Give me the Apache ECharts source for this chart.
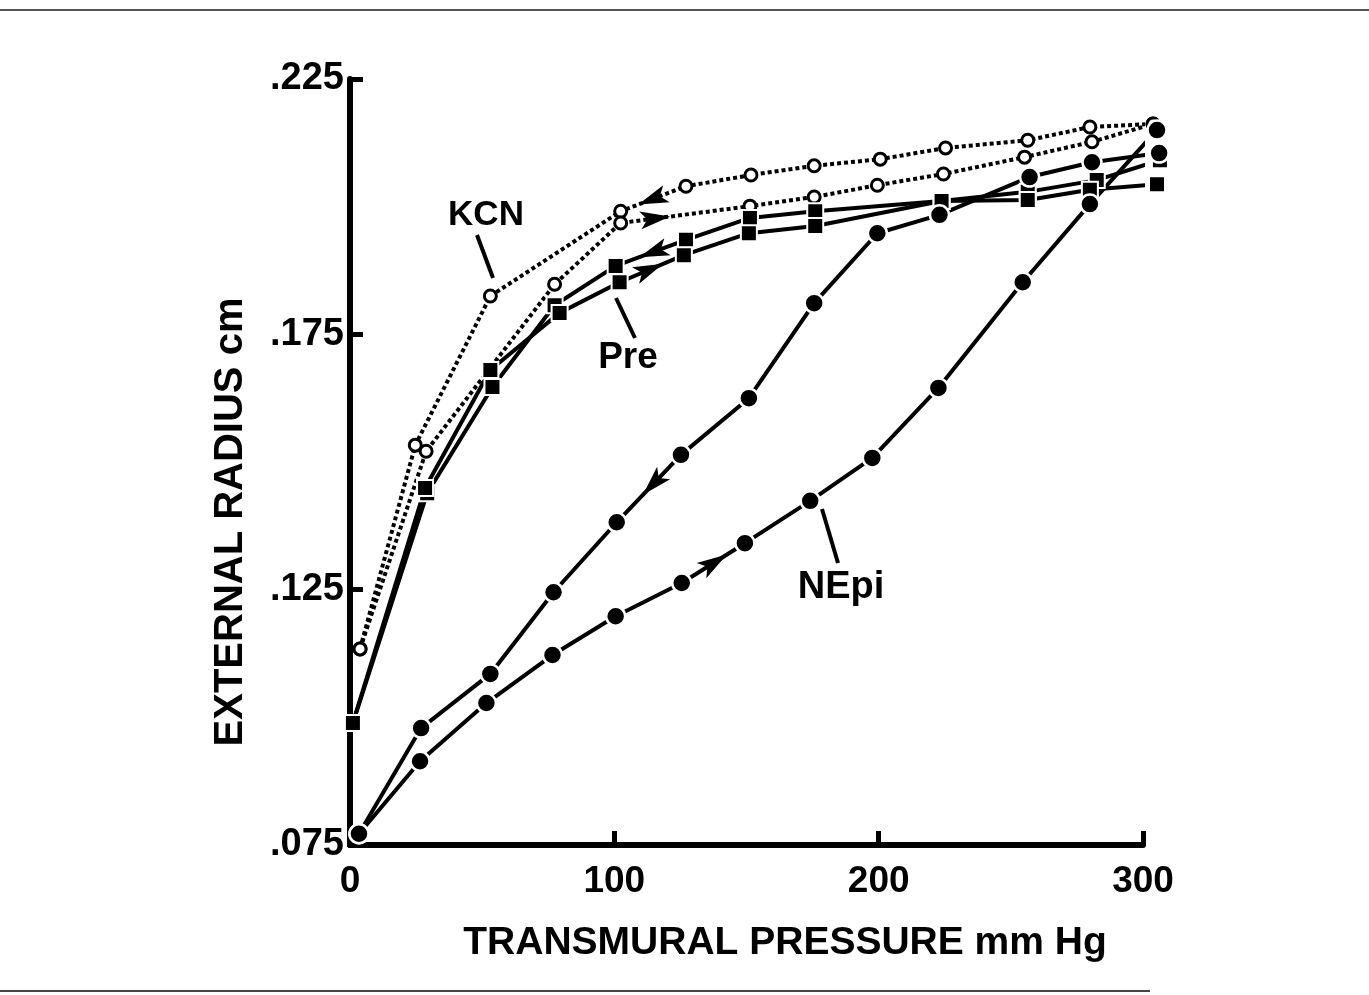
<!DOCTYPE html>
<html>
<head>
<meta charset="utf-8">
<script src="https://cdn.jsdelivr.net/npm/echarts@6/dist/echarts.min.js"></script>
<style>
html,body{margin:0;padding:0;background:#fff;}
#chart{width:1369px;height:995px;}
</style>
</head>
<body>
<div id="chart"></div>
<script>
// ---- data (transmural pressure mmHg, external radius cm) ----
var xTicks = [0, 100, 200, 300];
var yTicks = [0.075, 0.125, 0.175, 0.225];

var kcnDeflation = [
  [303.8, .2162], [279.9, .2156], [256.4, .2130], [225.3, .2115], [200.6, .2093],
  [175.6, .2080], [151.7, .2062], [127.1, .2040], [102.4, .1991], [53.1, .1825],
  [24.7, .1533], [3.8, .1134]
];
var kcnInflation = [
  [3.8, .1134], [28.8, .1521], [77.4, .1848], [102.4, .1968], [151.3, .2001],
  [175.6, .2019], [199.5, .2042], [224.5, .2064], [255.2, .2097], [280.7, .2127],
  [303.8, .2162]
];
var preDeflation = [
  [306.4, .2091], [282.5, .2052], [256.4, .2029], [223.8, .2011], [176.0, .1991],
  [151.3, .1978], [127.1, .1935], [100.5, .1884], [77.4, .1807], [53.9, .1647],
  [29.2, .1439], [1.1, .0989]
];
var preInflation = [
  [1.1, .0989], [28.4, .1449], [53.1, .1680], [79.3, .1792], [102.0, .1852],
  [126.3, .1905], [150.9, .1948], [176.0, .1962], [223.8, .2011], [256.4, .2013],
  [279.9, .2033], [305.3, .2044]
];
var nepiInflation = [
  [3.4, .0772], [26.5, .0914], [51.6, .1028], [76.6, .1122], [100.5, .1198],
  [125.5, .1263], [149.4, .1341], [174.1, .1424], [197.6, .1508], [222.6, .1645],
  [254.5, .1852], [279.9, .2005], [305.3, .2150]
];
var nepiDeflation = [
  [306.1, .2105], [280.7, .2087], [257.1, .2058], [223.0, .1984], [199.5, .1948],
  [175.6, .1811], [150.9, .1625], [125.2, .1514], [100.9, .1382], [77.0, .1245],
  [53.1, .1085], [26.9, .0979], [3.4, .0772]
];
// direction arrows: series, segment start index, fraction along segment
var arrowSpecs = [
  ['kcnDeflation', 7, 0.5], ['kcnInflation', 3, 0.26],
  ['preDeflation', 6, 0.45], ['preInflation', 4, 0.45],
  ['nepiDeflation', 7, 0.42], ['nepiInflation', 5, 0.5]
];
var seriesData = {
  kcnDeflation: kcnDeflation, kcnInflation: kcnInflation,
  preDeflation: preDeflation, preInflation: preInflation,
  nepiDeflation: nepiDeflation, nepiInflation: nepiInflation
};

var FONT = '"Liberation Sans", Arial, sans-serif';
var chart = echarts.init(document.getElementById('chart'), null, {renderer: 'canvas'});

function lineSeries(name, data, kind) {
  var s = {
    name: name, type: 'line', data: data, clip: false, z: 3,
    lineStyle: {color: '#000', width: 4},
    symbolKeepAspect: true
  };
  if (kind === 'open') {
    s.symbol = 'circle'; s.symbolSize = 12;
    s.itemStyle = {color: '#fff', borderColor: '#000', borderWidth: 3};
    s.lineStyle = {color: '#000', width: 4, type: [4, 3], cap: 'butt'};
  } else if (kind === 'square') {
    s.symbol = 'rect'; s.symbolSize = 16;
    s.itemStyle = {color: '#000', borderColor: '#fff', borderWidth: 2};
  } else {
    s.symbol = 'circle'; s.symbolSize = 19;
    s.itemStyle = {color: '#000', borderColor: '#fff', borderWidth: 2.5};
  }
  return s;
}

var arrowData = arrowSpecs.map(function (a) {
  var d = seriesData[a[0]];
  var p = d[a[1]], q = d[a[1] + 1];
  return [p[0], p[1], q[0], q[1], a[2]];
});

var option = {
  animation: false,
  backgroundColor: '#fff',
  grid: {left: 350, right: 226, top: 79, bottom: 150, containLabel: false},
  xAxis: {
    type: 'value', min: 0, max: 300, interval: 100,
    axisLine: {show: true, onZero: false, lineStyle: {color: '#000', width: 6}},
    axisTick: {show: true, inside: true, length: 14, lineStyle: {color: '#000', width: 5}},
    splitLine: {show: false},
    axisLabel: {color: '#000', fontFamily: FONT, fontWeight: 'bold', fontSize: 37, margin: 18,
      formatter: function (v) { return xTicks.indexOf(v) >= 0 ? String(v) : ''; }}
  },
  yAxis: {
    type: 'value', min: 0.075, max: 0.225, interval: 0.05,
    axisLine: {show: true, onZero: false, lineStyle: {color: '#000', width: 6}},
    axisTick: {show: true, inside: true, length: 13, lineStyle: {color: '#000', width: 5}},
    splitLine: {show: false},
    axisLabel: {color: '#000', fontFamily: FONT, fontWeight: 'bold', fontSize: 38, margin: 6,
      formatter: function (v) { return v.toFixed(3).replace(/^0/, ''); }}
  },
  series: [
    lineSeries('KCN deflation', kcnDeflation, 'open'),
    lineSeries('KCN inflation', kcnInflation, 'open'),
    lineSeries('Pre deflation', preDeflation, 'square'),
    lineSeries('Pre inflation', preInflation, 'square'),
    lineSeries('NEpi deflation', nepiDeflation, 'filled'),
    lineSeries('NEpi inflation', nepiInflation, 'filled'),
    {
      name: 'arrows', type: 'custom', data: arrowData, z: 5, clip: false,
      encode: {x: [0, 2], y: [1, 3]},
      renderItem: function (params, api) {
        var p1 = api.coord([api.value(0), api.value(1)]);
        var p2 = api.coord([api.value(2), api.value(3)]);
        var t = api.value(4);
        var cx = p1[0] + (p2[0] - p1[0]) * t;
        var cy = p1[1] + (p2[1] - p1[1]) * t;
        var ang = Math.atan2(p2[1] - p1[1], p2[0] - p1[0]);
        var c = Math.cos(ang), s = Math.sin(ang);
        var pts = [[16, 0], [-14, -9], [-7, 0], [-14, 9]].map(function (p) {
          return [cx + p[0] * c - p[1] * s, cy + p[0] * s + p[1] * c];
        });
        return {type: 'polygon', shape: {points: pts}, style: {fill: '#000'}};
      }
    }
  ],
  graphic: [
    {type: 'line', shape: {x1: 0, y1: 10, x2: 1369, y2: 10}, style: {stroke: '#555', lineWidth: 2}},
    {type: 'line', shape: {x1: 0, y1: 991, x2: 1150, y2: 991}, style: {stroke: '#444', lineWidth: 2}},
    {type: 'text', x: 231, y: 522, rotation: Math.PI / 2,
      style: {text: 'EXTERNAL RADIUS cm', font: 'bold 40px ' + FONT, fill: '#000', align: 'center', verticalAlign: 'middle'}},
    {type: 'text', x: 785, y: 943,
      style: {text: 'TRANSMURAL PRESSURE mm Hg', font: 'bold 39px ' + FONT, fill: '#000', align: 'center', verticalAlign: 'middle'}},
    {type: 'text', x: 486, y: 215,
      style: {text: 'KCN', font: 'bold 35px ' + FONT, fill: '#000', align: 'center', verticalAlign: 'middle'}},
    {type: 'line', shape: {x1: 477, y1: 235, x2: 493, y2: 278}, style: {stroke: '#000', lineWidth: 4}},
    {type: 'text', x: 628, y: 358,
      style: {text: 'Pre', font: 'bold 37px ' + FONT, fill: '#000', align: 'center', verticalAlign: 'middle'}},
    {type: 'line', shape: {x1: 616, y1: 298, x2: 635, y2: 338}, style: {stroke: '#000', lineWidth: 4}},
    {type: 'text', x: 841, y: 588,
      style: {text: 'NEpi', font: 'bold 38px ' + FONT, fill: '#000', align: 'center', verticalAlign: 'middle'}},
    {type: 'line', shape: {x1: 822, y1: 509, x2: 838, y2: 563}, style: {stroke: '#000', lineWidth: 4}}
  ]
};
chart.setOption(option);
</script>
</body>
</html>
